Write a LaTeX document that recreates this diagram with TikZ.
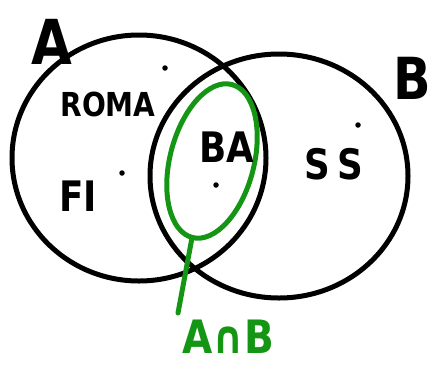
\documentclass[tikz,border=0pt]{standalone}
\usepackage{fontspec}
\setmainfont{DejaVu Sans}
\newfontfamily\hand{DejaVu Sans}[FakeStretch=0.85]
\usetikzlibrary{shapes.geometric}
\definecolor{pen}{RGB}{0,0,0}
\definecolor{gpen}{RGB}{20,150,20}
\tikzset{
  setline/.style={draw=pen, line width=5pt, ellipse, inner sep=0pt},
  grline/.style={draw=gpen, line width=5pt},
  elemdot/.style={circle, fill=pen, inner sep=0pt, minimum size=5.5pt},
  lbl/.style={inner sep=0pt, text=pen},
}
\begin{document}
\begin{tikzpicture}[x=1pt,y=-1pt]
\useasboundingbox (0,0) rectangle (436,365);
% sets
\node[setline, minimum width=254pt, minimum height=246pt] (A) at (139,158) {};
\node[setline, minimum width=258pt, minimum height=244pt] (B) at (279,176) {};
% intersection highlight
\node[ellipse, grline, inner sep=0pt, minimum width=84pt, minimum height=158pt, rotate=-14.5] (G) at (212,161) {};
\coordinate (gend) at (178,313);
\draw[grline, line cap=round] (G.south) -- (gend);
% labels
\node[lbl, font=\hand\bfseries\fontsize{62}{62}\selectfont] (la) at (52,42) {A};
\node[lbl, font=\hand\bfseries\fontsize{58}{58}\selectfont] (lb) at (412,78) {B};
\node[lbl, font=\hand\bfseries\fontsize{33}{33}\selectfont] (roma) at (108,104) {ROMA};
\node[lbl, font=\hand\bfseries\fontsize{42}{42}\selectfont] (fi) at (78,196) {FI};
\node[lbl, font=\hand\bfseries\fontsize{42}{42}\selectfont] (ba) at (227,147) {BA};
\node[lbl, font=\hand\bfseries\fontsize{42}{42}\selectfont] (ss) at (334,164) {S\kern8pt S};
\node[lbl, text=gpen, font=\hand\bfseries\fontsize{46}{46}\selectfont] (ab) at (228,337) {A∩B};
% elements
\node[elemdot] (d1) at (165,68) {};
\node[elemdot] (d2) at (358,125) {};
\node[elemdot] (d3) at (122,173) {};
\node[elemdot] (d4) at (216,185) {};
\end{tikzpicture}
\end{document}
